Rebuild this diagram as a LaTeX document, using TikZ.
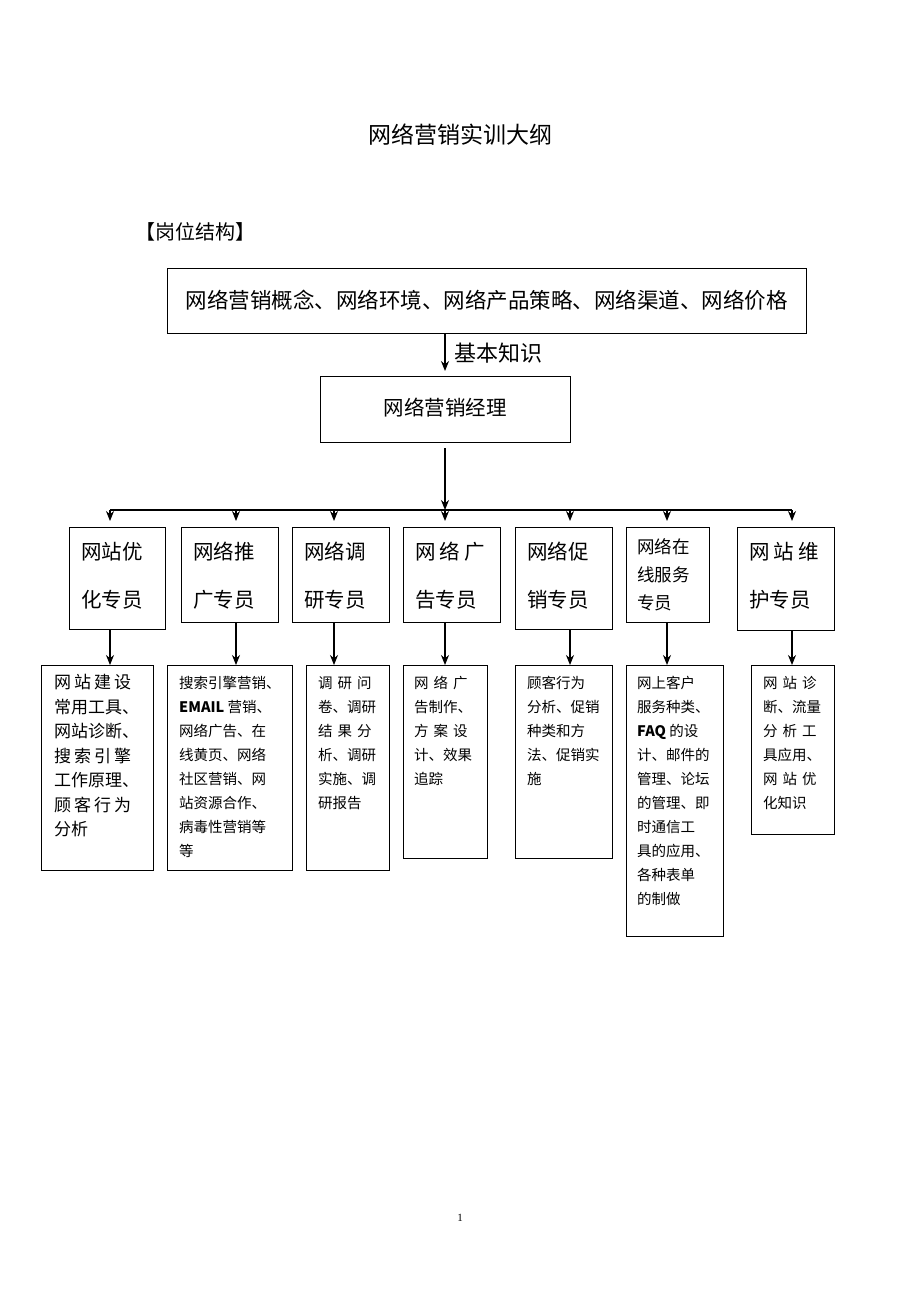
\documentclass[tikz,border=0pt]{standalone}
\usetikzlibrary{arrows.meta}
\usepackage{fontspec}
\setmainfont{Liberation Serif}
\newfontfamily\cjk{Noto Sans CJK SC}
\begin{document}
\begin{tikzpicture}[x=1pt,y=-1pt,
 box/.style={draw,line width=1pt},
 arr/.style={-{Stealth[length=10pt,width=8pt]},line width=1.2pt},
 big/.style={anchor=north west,align=left,inner sep=0pt,font=\cjk\fontsize{20.5}{48}\selectfont},
 sml/.style={anchor=north west,align=left,inner sep=0pt,font=\cjk\fontsize{14.5}{24}\selectfont}]
\useasboundingbox (0,0) rectangle (920,1302);
\node (title) at (460,135) {\cjk\fontsize{23}{28}\selectfont 网络营销实训大纲};
\node[anchor=west] (sec) at (132,232) {\cjk\fontsize{20}{24}\selectfont 【岗位结构】};
\draw[box] (167,268) rectangle (806,333);
\node (top) at (486.5,300) {\cjk\fontsize{21.5}{24}\selectfont 网络营销概念、网络环境、网络产品策略、网络渠道、网络价格};
\coordinate (topb) at (445,333);
\draw[box] (320,376) rectangle (570,442);
\node (mgr) at (445,408) {\cjk\fontsize{20.5}{24}\selectfont 网络营销经理};
\coordinate (mgrt) at (445,371);
\draw[arr] (topb) -- (mgrt);
\node[anchor=west] (jb) at (451,353) {\cjk\fontsize{22}{26}\selectfont 基本知识};
\coordinate (mb) at (445,448);
\coordinate (hub) at (445,510);
\draw[arr] (mb) -- (hub);
\draw[line width=1.2pt] (110,510) -- (792,510);
% level 2 boxes
\foreach \xa/\xb/\yb [count=\i] in {69/165/629,181/278/622,292/389/622,403/500/622,515/612/629,626/709/622,737/834/630}{
 \draw[box] (\xa,527) rectangle (\xb,\yb);
}
\foreach \x/\ya/\yb in {110/629/665,236/622/665,334/622/665,445/622/665,570/629/665,667/622/665,792/630/665}{
 \coordinate (s\x) at (\x,510);
 \coordinate (a\x) at (\x,\ya);
 \coordinate (b\x) at (\x,\yb);
 \coordinate (t\x) at (\x,521);
 \draw[arr] (s\x) -- (t\x);
 \draw[arr] (a\x) -- (b\x);
}
\node[big] (r1) at (81,542) {网站优\\化专员};
\node[big] (r2) at (193,542) {网络推\\广专员};
\node[big] (r3) at (304,542) {网络调\\研专员};
\node[big] (r4) at (415,542) {网\hspace{4pt}络\hspace{4pt}广\\告专员};
\node[big] (r5) at (527,542) {网络促\\销专员};
\node[big,font=\cjk\fontsize{17.5}{28}\selectfont] (r6) at (637,538) {网络在\\线服务\\专员};
\node[big] (r7) at (749,542) {网\hspace{4pt}站\hspace{4pt}维\\护专员};
% level 3 boxes
\draw[box] (41,665) rectangle (153,870);
\draw[box] (167,665) rectangle (292,870);
\draw[box] (306,665) rectangle (389,870);
\draw[box] (403,665) rectangle (487,858);
\draw[box] (515,665) rectangle (612,858);
\draw[box] (626,665) rectangle (723,936);
\draw[box] (751,665) rectangle (834,834);
\node[big,font=\cjk\fontsize{17}{24.5}\selectfont] (d1) at (54,674) {网\hspace{3pt}站\hspace{3pt}建\hspace{3pt}设\\常用工具、\\网站诊断、\\搜\hspace{3pt}索\hspace{3pt}引\hspace{3pt}擎\\工作原理、\\顾\hspace{3pt}客\hspace{3pt}行\hspace{3pt}为\\分析};
\node[sml] (d2) at (179,676) {搜索引擎营销、\\\textbf{EMAIL} 营销、\\网络广告、在\\线黄页、网络\\社区营销、网\\站资源合作、\\病毒性营销等\\等};
\node[sml] (d3) at (318,676) {调\hspace{5pt}研\hspace{5pt}问\\卷、调研\\结\hspace{5pt}果\hspace{5pt}分\\析、调研\\实施、调\\研报告};
\node[sml] (d4) at (414,676) {网\hspace{5pt}络\hspace{5pt}广\\告制作、\\方\hspace{5pt}案\hspace{5pt}设\\计、效果\\追踪};
\node[sml] (d5) at (527,676) {顾客行为\\分析、促销\\种类和方\\法、促销实\\施};
\node[sml] (d6) at (637,676) {网上客户\\服务种类、\\\textbf{FAQ} 的设\\计、邮件的\\管理、论坛\\的管理、即\\时通信工\\具的应用、\\各种表单\\的制做};
\node[sml] (d7) at (763,676) {网\hspace{5pt}站\hspace{5pt}诊\\断、流量\\分\hspace{5pt}析\hspace{5pt}工\\具应用、\\网\hspace{5pt}站\hspace{5pt}优\\化知识};
\node (pg) at (460,1218) {\fontsize{11}{13}\selectfont 1};
\end{tikzpicture}
\end{document}
